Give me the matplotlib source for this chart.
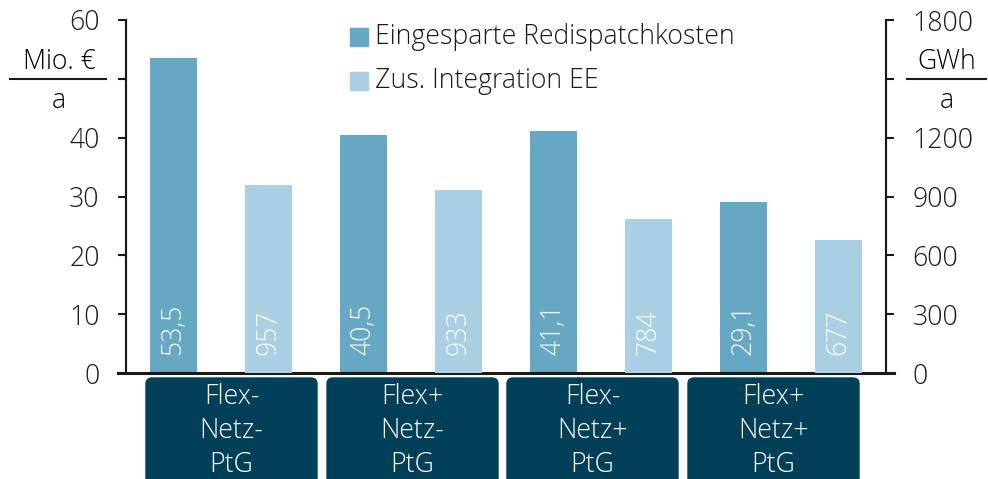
import numpy as np
import matplotlib.pyplot as plt
from matplotlib.patches import FancyBboxPatch

plt.rcParams['font.family'] = ['Open Sans', 'DejaVu Sans']
plt.rcParams['font.weight'] = 'light'

# data
szenarien = ['Flex-\nNetz-\nPtG', 'Flex+\nNetz-\nPtG', 'Flex-\nNetz+\nPtG', 'Flex+\nNetz+\nPtG']
redispatch = [53.5, 40.5, 41.1, 29.1]      # Mio. EUR / a
integration_ee = [957, 933, 784, 677]      # GWh / a
labels_redispatch = ['53,5', '40,5', '41,1', '29,1']
labels_ee = ['957', '933', '784', '677']

c_dark = '#66a8c4'
c_light = '#aacfe2'
c_box = '#023f58'
fs = 19.2

fig = plt.figure(figsize=(9.88, 4.79), dpi=100)
ax = fig.add_axes([126/988, 1 - 373/479, 760/988, 353/479])
ax2 = ax.twinx()

x = np.arange(len(szenarien)) * 2
ax.bar(x, redispatch, width=0.5, color=c_dark, zorder=2)
ax2.bar(x + 1, integration_ee, width=0.5, color=c_light, zorder=2)

for xi, lab in zip(x, labels_redispatch):
    ax.annotate(lab, (xi, 0), xytext=(0, 13), textcoords='offset points',
                rotation=90, ha='center', va='bottom', color='white', fontsize=fs)
for xi, lab in zip(x + 1, labels_ee):
    ax2.annotate(lab, (xi, 0), xytext=(0, 13), textcoords='offset points',
                 rotation=90, ha='center', va='bottom', color='white', fontsize=fs)

ax.set_xlim(-0.5, 7.5)
ax.set_ylim(0, 60)
ax2.set_ylim(0, 1800)
ax.set_xticks([])

ax.set_yticks(np.arange(0, 61, 10))
ax.set_yticklabels(['0', '10', '20', '30', '40', '', '60'])
ax2.set_yticks(np.arange(0, 1801, 300))
ax2.set_yticklabels(['0', '300', '600', '900', '1200', '', '1800'])

for a in (ax, ax2):
    a.tick_params(axis='y', length=6, width=1.5, labelsize=fs, pad=13, colors='#1a1a1a')
    a.spines['top'].set_visible(False)
    for s in a.spines.values():
        s.set_linewidth(1.5)
        s.set_color('#1a1a1a')
ax2.spines['bottom'].set_visible(False)
ax.spines['bottom'].set_visible(False)

# baseline running past both axes
ax.plot([-0.0105, 1.0105], [0, 0], transform=ax.transAxes, color='#1a1a1a',
        lw=2.2, clip_on=False, zorder=5)

# unit fractions next to the axes
fig.text(59/988, 1 - 62/479, 'Mio. €', ha='center', va='center', fontsize=fs)
fig.text(59/988, 1 - 101/479, 'a', ha='center', va='center', fontsize=fs)
fig.add_artist(plt.Line2D([10/988, 106/988], [1 - 79/479] * 2, color='#1a1a1a', lw=1.5))
fig.text(947/988, 1 - 62/479, 'GWh', ha='center', va='center', fontsize=fs)
fig.text(947/988, 1 - 101/479, 'a', ha='center', va='center', fontsize=fs)
fig.add_artist(plt.Line2D([907/988, 986/988], [1 - 79/479] * 2, color='#1a1a1a', lw=1.5))

# legend
for i, (col, txt) in enumerate([(c_dark, 'Eingesparte Redispatchkosten'),
                                (c_light, 'Zus. Integration EE')]):
    yc = 1 - (37 + 44 * i) / 479
    fig.add_artist(plt.Rectangle((350/988, yc - 9/479), 18/988, 18/479,
                                 color=col, transform=fig.transFigure))
    fig.text(375/988, yc, txt, ha='left', va='center', fontsize=fs, color='#1a1a1a')

# scenario boxes below the axis
box_left = [146, 327, 507, 688]
for bl, name in zip(box_left, szenarien):
    fig.add_artist(FancyBboxPatch((bl/988, -40/479), 171/988, (40 + 101)/479,
                                  boxstyle='round,pad=0,rounding_size=0.006',
                                  transform=fig.transFigure, color=c_box,
                                  mutation_aspect=988/479))
    fig.text((bl + 85.5)/988, 1 - 431/479, name, ha='center', va='center',
             color='white', fontsize=fs, linespacing=1.3)

fig.savefig('out.png', dpi=100)
